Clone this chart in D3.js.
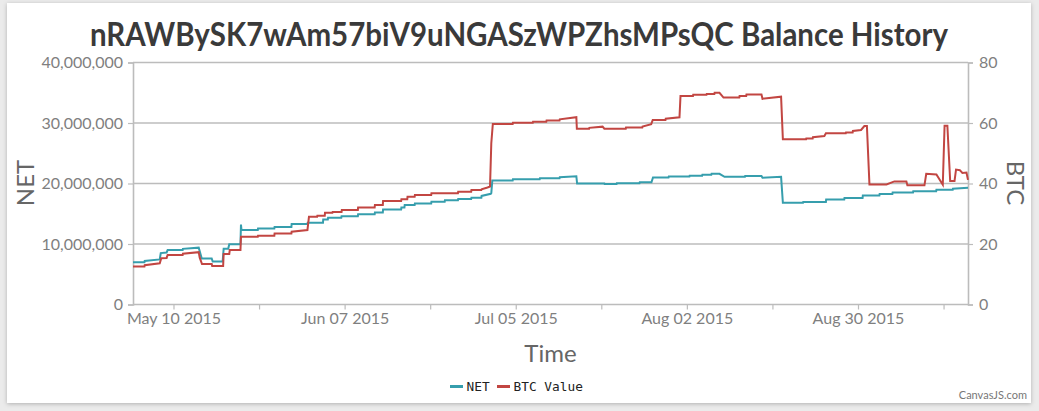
<!DOCTYPE html>
<html>
<head>
<meta charset="utf-8">
<script src="https://cdn.jsdelivr.net/npm/d3@7"></script>
<style>
  html, body { margin: 0; padding: 0; background: #ebebeb; }
  svg { display: block; }
</style>
</head>
<body>
<svg id="chart" width="1039" height="411"></svg>
<script>
// ---------------- DATA ----------------
const titleText = "nRAWBySK7wAm57biV9uNGASzWPZhsMPsQC Balance History";
const seriesNames = ["NET", "BTC Value"];

// NET balance (left axis)
const netDates = [
  "2015-05-03T09","2015-05-05T06","2015-05-05T07","2015-05-07T18","2015-05-07T22","2015-05-08T21",
  "2015-05-09T01","2015-05-11T12","2015-05-11T13","2015-05-14T03","2015-05-14T09","2015-05-14T15",
  "2015-05-16T06","2015-05-16T10","2015-05-18T01","2015-05-18T05","2015-05-18T23","2015-05-19T03",
  "2015-05-20T23","2015-05-21T01","2015-05-21T03","2015-05-23T19","2015-05-23T20","2015-05-26T12",
  "2015-05-26T13","2015-05-29T07","2015-05-29T08","2015-05-31T22","2015-05-31T23","2015-06-03T11",
  "2015-06-03T12","2015-06-04T06","2015-06-04T07","2015-06-06T11","2015-06-06T12","2015-06-09T04",
  "2015-06-09T05","2015-06-11T22","2015-06-11T23","2015-06-13T06","2015-06-13T07","2015-06-16T06",
  "2015-06-16T07","2015-06-16T19","2015-06-16T20","2015-06-18T11","2015-06-18T12","2015-06-21T04",
  "2015-06-21T05","2015-06-23T09","2015-06-23T10","2015-06-25T13","2015-06-25T14","2015-06-27T17",
  "2015-06-27T18","2015-06-29T09","2015-06-29T10","2015-06-30T22","2015-07-01T00","2015-07-01T04",
  "2015-07-04T12","2015-07-04T13","2015-07-08T22","2015-07-08T23","2015-07-12T04","2015-07-12T05",
  "2015-07-14T22","2015-07-15T01","2015-07-19T12","2015-07-19T13","2015-07-21T12","2015-07-21T13",
  "2015-07-25T06","2015-07-25T07","2015-07-27T05","2015-07-27T11","2015-07-30T00","2015-07-30T01",
  "2015-08-02T10","2015-08-02T11","2015-08-04T12","2015-08-04T13","2015-08-06T00","2015-08-06T01",
  "2015-08-07T08","2015-08-08T04","2015-08-11T12","2015-08-11T13","2015-08-14T05","2015-08-14T09",
  "2015-08-17T10","2015-08-17T17","2015-08-21T00","2015-08-21T01","2015-08-24T18","2015-08-24T19",
  "2015-08-27T18","2015-08-27T19","2015-08-30T18","2015-08-30T19","2015-09-02T12","2015-09-02T13",
  "2015-09-04T15","2015-09-04T16","2015-09-08T00","2015-09-08T01","2015-09-11T19","2015-09-11T20",
  "2015-09-14T12","2015-09-14T13","2015-09-17T00"
];
const netValues = [
  7000000,7000000,7200000,7450000,8500000,8600000,
  9000000,9000000,9200000,9400000,8500000,7600000,
  7600000,7100000,7100000,9200000,9200000,9950000,
  9950000,13200000,12300000,12300000,12550000,12550000,
  12800000,12800000,13300000,13300000,13500000,13500000,
  14050000,14050000,14350000,14350000,14600000,14600000,
  14900000,14900000,15200000,15200000,15700000,15700000,
  16050000,16050000,16450000,16450000,16700000,16700000,
  17000000,17000000,17250000,17250000,17450000,17450000,
  17650000,17650000,17950000,18300000,18400000,20500000,
  20500000,20700000,20700000,20850000,20850000,21050000,
  21200000,20000000,20000000,19900000,19900000,20050000,
  20050000,20200000,20200000,21000000,21000000,21150000,
  21150000,21300000,21300000,21450000,21450000,21600000,
  21600000,21100000,21100000,21250000,21250000,20950000,
  21100000,16800000,16800000,16950000,16950000,17350000,
  17350000,17600000,17600000,18000000,18000000,18250000,
  18250000,18500000,18500000,18700000,18700000,18950000,
  18950000,19150000,19300000
];

// BTC value (right axis)
const btcDates = [
  "2015-05-03T09","2015-05-05T06","2015-05-05T07","2015-05-07T18","2015-05-08T00","2015-05-08T21",
  "2015-05-09T01","2015-05-11T12","2015-05-11T13","2015-05-14T03","2015-05-14T07","2015-05-14T16",
  "2015-05-16T06","2015-05-16T08","2015-05-18T03","2015-05-18T05","2015-05-19T03","2015-05-19T05",
  "2015-05-20T23","2015-05-21T01","2015-05-23T19","2015-05-23T20","2015-05-26T12","2015-05-26T13",
  "2015-05-29T07","2015-05-29T08","2015-05-31T22","2015-06-01T04","2015-06-02T12","2015-06-02T13",
  "2015-06-03T18","2015-06-03T19","2015-06-05T00","2015-06-05T01","2015-06-06T12","2015-06-06T13",
  "2015-06-09T04","2015-06-09T05","2015-06-11T22","2015-06-11T23","2015-06-13T06","2015-06-13T07",
  "2015-06-16T06","2015-06-16T07","2015-06-17T06","2015-06-17T07","2015-06-18T11","2015-06-18T12",
  "2015-06-21T04","2015-06-21T05","2015-06-25T13","2015-06-25T14","2015-06-27T17","2015-06-27T18",
  "2015-06-29T09","2015-06-29T10","2015-06-30T09","2015-06-30T19","2015-07-01T00","2015-07-01T06",
  "2015-07-04T12","2015-07-04T13","2015-07-07T19","2015-07-07T20","2015-07-10T00","2015-07-10T01",
  "2015-07-12T04","2015-07-12T05","2015-07-14T22","2015-07-15T00","2015-07-17T00","2015-07-17T01",
  "2015-07-19T05","2015-07-19T12","2015-07-23T00","2015-07-23T01","2015-07-25T17","2015-07-25T18",
  "2015-07-27T04","2015-07-27T10","2015-07-29T12","2015-07-29T13","2015-07-31T19","2015-07-31T23",
  "2015-08-03T00","2015-08-03T01","2015-08-05T05","2015-08-05T06","2015-08-06T12","2015-08-06T13",
  "2015-08-07T08","2015-08-08T00","2015-08-10T14","2015-08-10T15","2015-08-11T17","2015-08-11T18",
  "2015-08-14T05","2015-08-14T09","2015-08-17T10","2015-08-17T17","2015-08-21T12","2015-08-21T13",
  "2015-08-22T14","2015-08-22T15","2015-08-24T12","2015-08-24T18","2015-08-28T00","2015-08-28T01",
  "2015-08-29T03","2015-08-29T04","2015-08-30T12","2015-08-31T01","2015-08-31T11","2015-08-31T21",
  "2015-09-03T16","2015-09-04T23","2015-09-06T22","2015-09-07T02","2015-09-09T21","2015-09-10T04",
  "2015-09-11T20","2015-09-12T21","2015-09-13T04","2015-09-13T15","2015-09-14T02","2015-09-14T19",
  "2015-09-15T01","2015-09-15T16","2015-09-16T02","2015-09-16T18","2015-09-17T00"
];
const btcValues = [
  12.6,12.6,13.0,13.6,15.3,15.4,
  16.4,16.4,16.8,17.3,15.5,13.4,
  13.4,12.7,12.7,16.7,16.7,18.0,
  18.0,22.4,22.4,22.75,22.75,23.5,
  23.5,24.05,24.6,29.0,29.0,29.35,
  29.35,30.3,30.3,30.6,30.6,31.2,
  31.2,32.1,32.1,32.9,32.9,34.2,
  34.2,34.8,34.8,35.6,35.6,36.2,
  36.2,36.75,36.75,37.3,37.3,37.85,
  37.85,38.1,38.7,39.0,53.3,59.7,
  59.7,60.1,60.1,60.45,60.45,60.8,
  60.8,61.2,61.9,58.1,58.1,58.4,
  58.8,58.1,58.1,58.5,58.5,58.8,
  59.6,61.0,61.0,61.4,61.9,68.9,
  68.9,69.3,69.3,69.6,69.6,70.0,
  70.0,68.4,68.4,68.9,68.9,69.4,
  69.4,68.0,68.7,54.6,54.6,54.9,
  54.9,55.3,55.7,56.6,56.6,56.9,
  56.9,57.35,57.7,59.0,59.0,39.7,
  39.7,40.7,40.7,39.4,39.4,43.2,
  43.0,39.6,59.1,59.1,40.8,40.8,
  44.6,44.4,43.5,43.6,41.2
];

const xTickDates = ["2015-05-10T00","2015-05-24T00","2015-06-07T00","2015-06-21T00","2015-07-05T00",
                    "2015-07-19T00","2015-08-02T00","2015-08-16T00","2015-08-30T00","2015-09-13T00"];
const leftTicks = [0, 10000000, 20000000, 30000000, 40000000];
const rightTicks = [0, 20, 40, 60, 80];
const xDomain = ["2015-05-03T09", "2015-09-17T00"];

// ---------------- LAYOUT ----------------
const parse = d3.utcParse("%Y-%m-%dT%H");
const colors = ["#369EAD", "#C24642"];
const plot = { left: 133, right: 968, top: 62.5, bottom: 304.5 };
const font = "Lato, 'Open Sans', sans-serif";

const svg = d3.select("#chart");

// panel with shadow
const defs = svg.append("defs");
const f = defs.append("filter").attr("id", "shadow").attr("x", "-5%").attr("y", "-5%").attr("width", "110%").attr("height", "110%");
f.append("feDropShadow").attr("dx", 0).attr("dy", 1).attr("stdDeviation", 2).attr("flood-color", "#000").attr("flood-opacity", 0.25);
svg.append("rect").attr("x", 0).attr("y", 0).attr("width", 1039).attr("height", 411).attr("fill", "#ebebeb");
svg.append("rect").attr("x", 7).attr("y", 3).attr("width", 1024).attr("height", 400).attr("fill", "#fff").attr("filter", "url(#shadow)");

const x = d3.scaleUtc().domain(xDomain.map(parse)).range([plot.left, plot.right]);
const yL = d3.scaleLinear().domain([0, 40000000]).range([plot.bottom, plot.top]);
const yR = d3.scaleLinear().domain([0, 80]).range([plot.bottom, plot.top]);

// gridlines
svg.append("g").selectAll("line").data(leftTicks.filter(d => d > 0)).join("line")
  .attr("x1", plot.left).attr("x2", plot.right)
  .attr("y1", d => yL(d)).attr("y2", d => yL(d))
  .attr("stroke", "#bcbcbc").attr("stroke-width", 1.6);

// axes
function styleAxis(g) {
  g.selectAll(".domain").attr("stroke", "#bcbcbc").attr("stroke-width", 1.6);
  g.selectAll(".tick line").attr("stroke", "#bcbcbc").attr("stroke-width", 1.2);
  g.selectAll(".tick text").attr("fill", "#7f7f7f").style("font-family", font).style("font-size", "16px");
}

const gL = svg.append("g").attr("transform", `translate(${plot.left},0)`)
  .call(d3.axisLeft(yL).tickValues(leftTicks).tickFormat(d3.format(",")).tickSizeOuter(0).tickSize(5).tickPadding(5));
styleAxis(gL);

const gR = svg.append("g").attr("transform", `translate(${plot.right},0)`)
  .call(d3.axisRight(yR).tickValues(rightTicks).tickSizeOuter(0).tickSize(5).tickPadding(6));
styleAxis(gR);

const fmt = d3.utcFormat("%b %d %Y");
const xt = xTickDates.map(parse);
const gX = svg.append("g").attr("transform", `translate(0,${plot.bottom})`)
  .call(d3.axisBottom(x).tickValues(xt).tickFormat((d, i) => i % 2 === 0 ? fmt(d) : "").tickSizeOuter(0).tickSize(5).tickPadding(3));
styleAxis(gX);
gX.select(".domain").attr("d", `M${plot.left},0H${plot.right}`);

// series lines
const line = (scale) => d3.line().x(d => x(d[0])).y(d => scale(d[1]));
const netData = netDates.map((d, i) => [parse(d), netValues[i]]);
const btcData = btcDates.map((d, i) => [parse(d), btcValues[i]]);

svg.append("path").datum(netData).attr("d", line(yL))
  .attr("fill", "none").attr("stroke", colors[0]).attr("stroke-width", 2).attr("stroke-linejoin", "miter");
svg.append("path").datum(btcData).attr("d", line(yR))
  .attr("fill", "none").attr("stroke", colors[1]).attr("stroke-width", 2).attr("stroke-linejoin", "miter");

// title
const title = svg.append("text").attr("x", 519).attr("y", 46).attr("text-anchor", "middle")
  .style("font-family", font).style("font-weight", "bold").style("font-size", "32px").attr("fill", "#3a3a3a")
  .text(titleText);
title.attr("textLength", 858).attr("lengthAdjust", "spacingAndGlyphs");

// axis titles
svg.append("text").attr("transform", "translate(34,183) rotate(-90)").attr("text-anchor", "middle")
  .style("font-family", font).style("font-size", "24px").attr("fill", "#666").text(seriesNames[0]);
svg.append("text").attr("transform", "translate(1007,183) rotate(90)").attr("text-anchor", "middle")
  .style("font-family", font).style("font-size", "24px").attr("fill", "#666").text("BTC");
svg.append("text").attr("x", (plot.left + plot.right) / 2).attr("y", 362).attr("text-anchor", "middle")
  .style("font-family", font).style("font-size", "24px").attr("fill", "#666").text("Time");

// legend
const legend = svg.append("g").style("font-family", "'DejaVu Sans Mono', 'Liberation Mono', monospace").style("font-size", "12.8px");
const legendItems = [{ name: seriesNames[0], x: 450 }, { name: seriesNames[1], x: 497 }];
legendItems.forEach((it, i) => {
  legend.append("line").attr("x1", it.x).attr("x2", it.x + 13).attr("y1", 386.5).attr("y2", 386.5)
    .attr("stroke", colors[i]).attr("stroke-width", 3);
  legend.append("text").attr("x", it.x + 16.5).attr("y", 391).attr("fill", "#222").text(it.name);
});

// credit
svg.append("text").attr("x", 1027).attr("y", 399).attr("text-anchor", "end")
  .style("font-family", font).style("font-size", "11px").attr("fill", "#777").text("CanvasJS.com");
</script>
</body>
</html>
